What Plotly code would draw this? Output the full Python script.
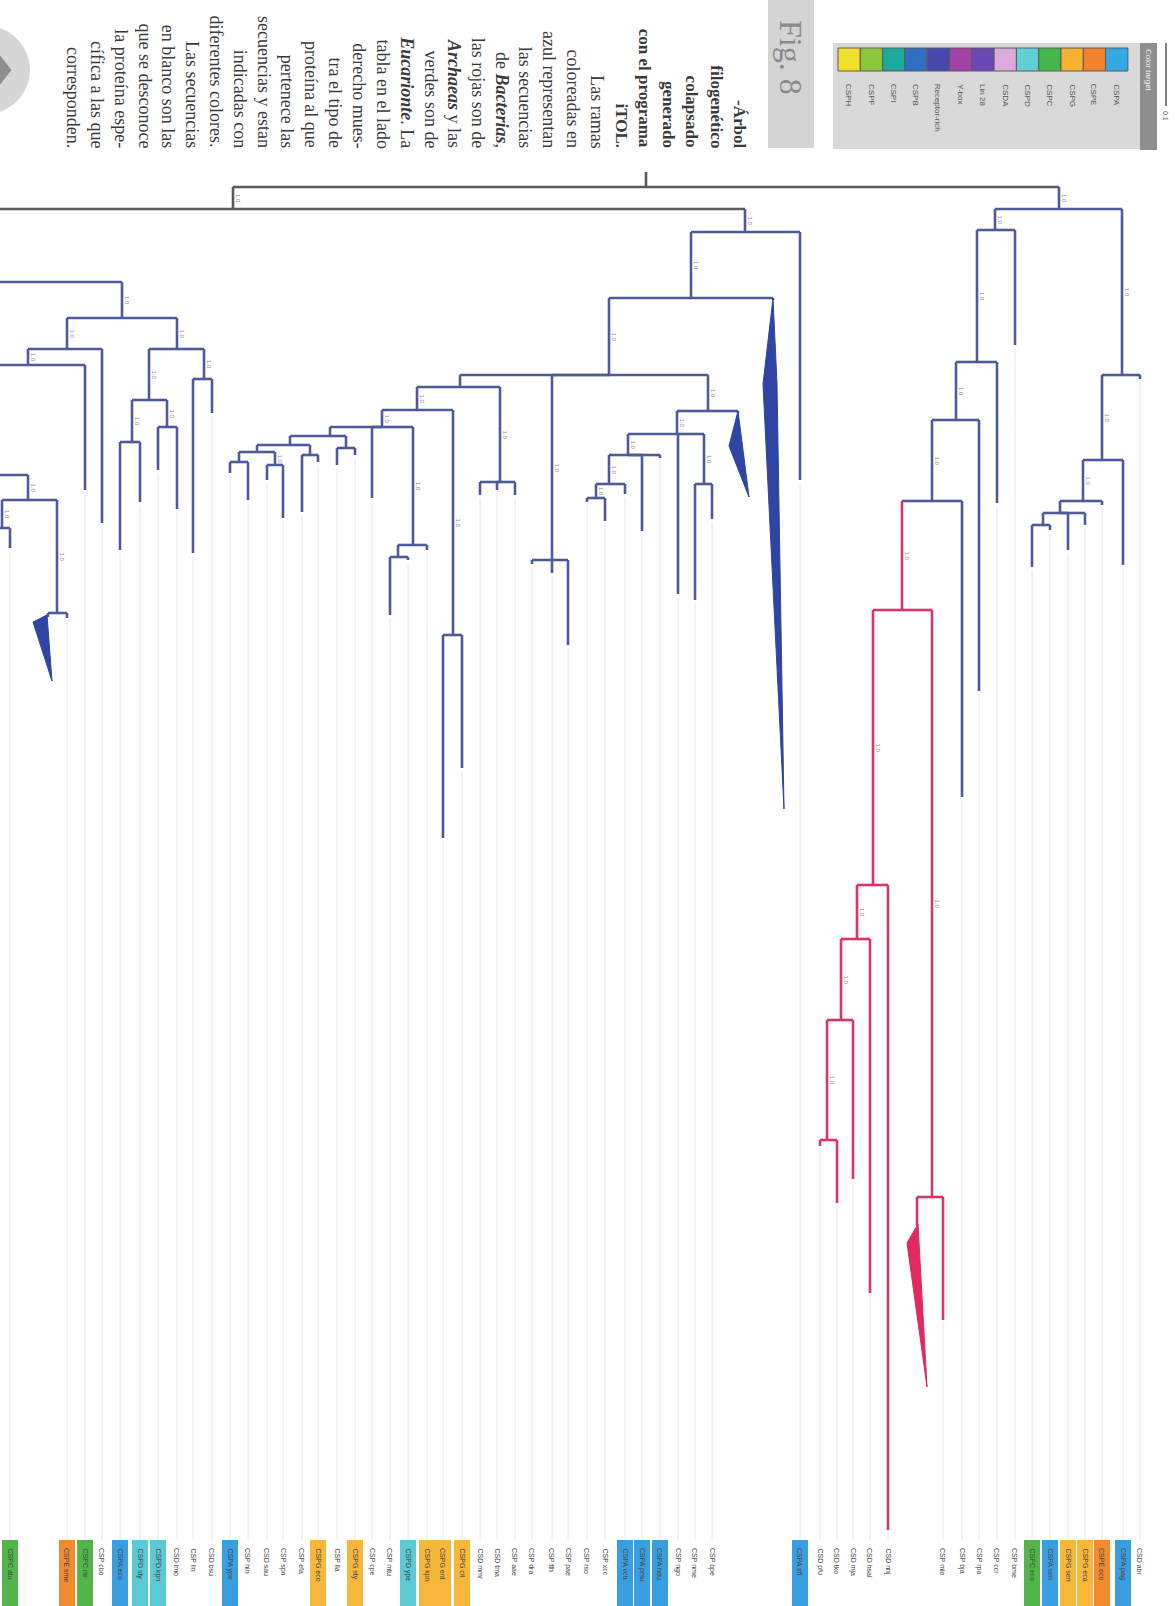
import plotly.graph_objects as go

W, H = 1175, 1606

# ---------------- tree data: (node, parent, x position, depth, clade) ----------------
backbone = [
    ("STEM", None, 646, 172, "k"),
    ("ROOT", "STEM", 646, 187, "k"),
    ("A", "ROOT", 233, 209, "k"),
    ("R0", "ROOT", 1059, 209, "b"),
    ("B", "A", 745, 232, "b"),
    ("L0", "A", -279, 282, "b"),
]

left_clade = [
    ("L1", "L0", 122, 318, "b"),
    ("L2", "L1", 177, 349, "b"),
    ("L3", "L2", 204, 379, "b"),
    ("t193", "L3", 193, 553, "b"),
    ("t212", "L3", 212, 413, "b"),
    ("L4", "L2", 149, 400, "b"),
    ("L5", "L4", 167, 427, "b"),
    ("t158", "L5", 158, 470, "b"),
    ("t177", "L5", 177, 509, "b"),
    ("L6", "L4", 132, 442, "b"),
    ("t120", "L6", 120, 550, "b"),
    ("t140", "L6", 140, 502, "b"),
    ("L7", "L1", 67, 349, "b"),
    ("t102", "L7", 102, 523, "b"),
    ("L8", "L7", 28, 365, "b"),
    ("t85", "L8", 85, 490, "b"),
    ("L9", "L8", -32, 475, "b"),
    ("L10", "L9", 28, 500, "b"),
    ("L12", "L10", 2, 528, "b"),
    ("t-8", "L12", -8, 560, "b"),
    ("t10", "L12", 10, 548, "b"),
    ("L11", "L10", 57, 613, "b"),
    ("TL", "L11", 48, 617, "b"),
    ("t67", "L11", 67, 618, "b"),
]

middle_clade = [
    ("t800", "B", 800, 480, "b"),
    ("M2", "B", 691, 298, "b"),
    ("T1", "M2", 773, 300, "b"),
    ("M3", "M2", 609, 375, "b"),
    ("P1", "M3", 460, 387, "b"),
    ("P3", "P1", 417, 410, "b"),
    ("P5", "P3", 382, 427, "b"),
    ("X", "P5", 330, 436, "b"),
    ("XE", "X", 346, 448, "b"),
    ("t337", "XE", 337, 465, "b"),
    ("t355", "XE", 355, 455, "b"),
    ("XA", "X", 290, 445, "b"),
    ("XF", "XA", 310, 455, "b"),
    ("t302", "XF", 302, 512, "b"),
    ("t318", "XF", 318, 462, "b"),
    ("XB", "XA", 257, 452, "b"),
    ("XC", "XB", 239, 462, "b"),
    ("t230", "XC", 230, 473, "b"),
    ("t248", "XC", 248, 500, "b"),
    ("XD", "XB", 275, 465, "b"),
    ("t267", "XD", 267, 480, "b"),
    ("t283", "XD", 283, 518, "b"),
    ("t372", "P5", 372, 498, "b"),
    ("P7", "P5", 413, 545, "b"),
    ("P8", "P7", 398, 557, "b"),
    ("t390", "P8", 390, 615, "b"),
    ("t408", "P8", 408, 560, "b"),
    ("t427", "P7", 427, 550, "b"),
    ("P6", "P3", 453, 635, "b"),
    ("t443", "P6", 443, 838, "b"),
    ("t462", "P6", 462, 768, "b"),
    ("P4", "P1", 500, 482, "b"),
    ("t480", "P4", 480, 495, "b"),
    ("t497", "P4", 497, 490, "b"),
    ("t515", "P4", 515, 495, "b"),
    ("P2", "M3", 552, 560, "b"),
    ("t532", "P2", 532, 564, "b"),
    ("t552", "P2", 552, 573, "b"),
    ("t568", "P2", 568, 645, "b"),
    ("M4", "M3", 708, 411, "b"),
    ("T2", "M4", 738, 413, "b"),
    ("M5", "M4", 677, 434, "b"),
    ("t678", "M5", 678, 594, "b"),
    ("M6", "M5", 704, 484, "b"),
    ("t695", "M6", 695, 600, "b"),
    ("t712", "M6", 712, 519, "b"),
    ("M7", "M5", 628, 455, "b"),
    ("t642", "M7", 642, 531, "b"),
    ("t660", "M7", 660, 458, "b"),
    ("M8", "M7", 609, 484, "b"),
    ("t625", "M8", 625, 494, "b"),
    ("M9", "M8", 596, 498, "b"),
    ("t587", "M9", 587, 502, "b"),
    ("t605", "M9", 605, 521, "b"),
]

right_clade = [
    ("R2", "R0", 995, 230, "b"),
    ("t1015", "R2", 1015, 345, "b"),
    ("R3", "R2", 977, 362, "b"),
    ("t997", "R3", 997, 503, "b"),
    ("R4", "R3", 956, 420, "b"),
    ("t979", "R4", 979, 691, "b"),
    ("R5", "R4", 932, 501, "b"),
    ("t962", "R5", 962, 797, "b"),
    ("RR", "R0", 1122, 375, "b"),
    ("t1140", "RR", 1140, 379, "b"),
    ("R6", "RR", 1102, 460, "b"),
    ("t1123", "R6", 1123, 565, "b"),
    ("R7", "R6", 1083, 501, "b"),
    ("t1102", "R7", 1102, 505, "b"),
    ("R8", "R7", 1060, 513, "b"),
    ("t1068", "R8", 1068, 550, "b"),
    ("t1085", "R8", 1085, 525, "b"),
    ("R9", "R8", 1043, 525, "b"),
    ("t1032", "R9", 1032, 567, "b"),
    ("t1050", "R9", 1050, 530, "b"),
]

red_clade = [
    ("RED1", "R5", 902, 610, "r"),
    ("RED2", "RED1", 932, 1197, "r"),
    ("t943", "RED2", 943, 1320, "r"),
    ("T3", "RED2", 917, 1226, "r"),
    ("RED3", "RED1", 873, 885, "r"),
    ("t888", "RED3", 888, 1530, "r"),
    ("RED4", "RED3", 857, 939, "r"),
    ("t870", "RED4", 870, 1293, "r"),
    ("RED5", "RED4", 841, 1020, "r"),
    ("t853", "RED5", 853, 1179, "r"),
    ("RED6", "RED5", 827, 1140, "r"),
    ("t837", "RED6", 837, 1203, "r"),
    ("t820", "RED6", 820, 1146, "r"),
]

# collapsed clades (wedges)
wedge_TL_x = [47, 33, 52, 47]
wedge_TL_y = [615, 622, 681, 615]
wedge_T1_x = [773, 763, 784, 777, 773]
wedge_T1_y = [298, 384, 809, 384, 298]
wedge_T2_x = [738, 729, 749, 738]
wedge_T2_y = [411, 446, 497, 411]
wedge_T3_x = [918, 907, 927, 918]
wedge_T3_y = [1224, 1243, 1387, 1224]

# ---------------- leaf labels ----------------
label_x = [-8, 10, 67, 85, 102, 120, 140, 158, 177, 193, 212, 230, 248, 267, 283, 302,
           318, 337, 355, 372, 390, 408, 427, 443, 462, 480, 497, 515, 532, 552, 568,
           587, 605, 625, 642, 660, 678, 695, 712, 800, 820, 837, 853, 870, 888, 943,
           962, 979, 997, 1015, 1032, 1050, 1068, 1085, 1102, 1123, 1140]
label_type = ["w", "g", "o", "g", "w", "b", "c", "c", "w", "w", "w", "b", "w", "w", "w", "w",
              "y", "w", "y", "w", "w", "c", "y", "y", "y", "w", "w", "w", "w", "w", "w",
              "w", "w", "b", "b", "b", "w", "w", "w", "b", "w", "w", "w", "w", "w", "w",
              "w", "w", "w", "w", "g", "b", "y", "y", "o", "b", "w"]
label_text = ["CSP bce", "CSPC atu", "CSPE sme", "CSPC rle", "CSP cbo", "CSPA eco", "CSPD sty",
              "CSPD kpn", "CSD lmo", "CSP lin", "CSD bsu", "CSPA ype", "CSP hin", "CSD sau",
              "CSP spn", "CSP efa", "CSPG eco", "CSP lla", "CSPG sty", "CSP cpe", "CSP mtu",
              "CSPD ype", "CSPG kpn", "CSPG ent", "CSPG cit", "CSD mmr", "CSD tma", "CSP aae",
              "CSP dra", "CSP tth", "CSP pae", "CSP rso", "CSP xcc", "CSPA vch", "CSPA pmu",
              "CSPA hdu", "CSP ngo", "CSP nme", "CSP bpe", "CSPA sfl", "CSD pfu", "CSD tko",
              "CSD mja", "CSD hsal", "CSD nnj", "CSP mlo", "CSP bja", "CSP rpa", "CSP ccr",
              "CSP bme", "CSPC eco", "CSPA sen", "CSPG sen", "CSPG eca", "CSPE eco",
              "CSPA pag", "CSD abr"]

box_colors = {"b": "#3a9fe0", "c": "#5ccad4", "g": "#53b64a", "o": "#f28a30", "y": "#f7b73a"}

# ---------------- legend (right-top table) ----------------
legend_names = ["CSPH", "CSPF", "CSPI", "CSPB", "Receptor-rich", "Y-box", "Lin 28", "CSDA",
                "CSPD", "CSPC", "CSPG", "CSPE", "CSPA"]
legend_colors = ["#efe02a", "#8cc63f", "#1fa89e", "#2f6fc4", "#4747ad", "#a241a6", "#6a48b5",
                 "#dcaadc", "#62d0d2", "#45b649", "#f8b232", "#f2822e", "#35a9e6"]

# ---------------- caption ----------------
caption_lines = ["-Árbol", "filogenético", "colapsado", "generado", "con el programa", "iTOL.",
                 "Las ramas", "coloreadas en", "azul representan", "las secuencias",
                 "de <b><i>Bacterias</i></b>,", "las rojas son de", "<b><i>Archaeas</i></b> y las",
                 "verdes son de", "<b><i>Eucarionte</i></b>. La", "tabla en el lado",
                 "derecho mues-", "tra el tipo de", "proteína al que", "pertenece las",
                 "secuencias y estan", "indicadas con", "diferentes colores.", "Las secuencias",
                 "en blanco son las", "que se desconoce", "la proteína espe-", "cífica a las que",
                 "corresponden."]
caption_bold = [True] * 6 + [False] * 23

# =====================================================================
COL = {"k": "#5a5a5a", "b": "#4e5a9a", "r": "#d9356d"}
nodes = {}
for row in backbone + left_clade + middle_clade + right_clade + red_clade:
    name, parent, x, y, g = row
    nodes[name] = dict(parent=parent, x=x, y=y, g=g)

seg = {k: ([], []) for k in COL}
support = []
for name, n in nodes.items():
    p = n["parent"]
    if p is None:
        continue
    P = nodes[p]
    hx, hy = seg[P["g"]]
    hx += [P["x"], n["x"], None]
    hy += [P["y"], P["y"], None]
    vx, vy = seg[n["g"]]
    vx += [n["x"], n["x"], None]
    vy += [P["y"], n["y"], None]
    if not name.startswith(("t", "T")) and name != "ROOT" and n["y"] - P["y"] > 12:
        support.append((n["x"] + 5, (P["y"] + n["y"]) / 2))

fig = go.Figure()

# guide lines from tips to labels
tips = {n["x"]: n["y"] for k, n in nodes.items() if k.startswith("t")}
gx, gy = [], []
for lx in label_x:
    ty = tips.get(lx, 400)
    gx += [lx, lx, None]
    gy += [ty + 3, 1540, None]
fig.add_trace(go.Scatter(x=gx, y=gy, mode="lines", line=dict(color="#e6e6ec", width=1),
                         hoverinfo="skip", showlegend=False))

for g, (xs, ys) in seg.items():
    fig.add_trace(go.Scatter(x=xs, y=ys, mode="lines", line=dict(color=COL[g], width=2.6),
                             hoverinfo="skip", showlegend=False))

for wx, wy, c in [(wedge_TL_x, wedge_TL_y, "#2f44a3"), (wedge_T1_x, wedge_T1_y, "#2f44a3"),
                  (wedge_T2_x, wedge_T2_y, "#2f44a3"), (wedge_T3_x, wedge_T3_y, "#e02a60")]:
    fig.add_trace(go.Scatter(x=wx, y=wy, mode="lines", fill="toself", fillcolor=c,
                             line=dict(color=c, width=1), hoverinfo="skip", showlegend=False))

shapes = []
annotations = []

# support values
for sx, sy in support:
    annotations.append(dict(x=sx, y=sy, text="1.0", showarrow=False, textangle=90,
                            font=dict(size=6, color="#8d8d8d", family="Liberation Sans"),
                            xanchor="center", yanchor="middle"))

# leaf label boxes + texts
for lx, lt, txt in zip(label_x, label_type, label_text):
    if lt != "w":
        shapes.append(dict(type="rect", x0=lx - 8, x1=lx + 8, y0=1540, y1=1612,
                           fillcolor=box_colors[lt], line=dict(width=0), layer="below"))
    annotations.append(dict(x=lx, y=1546, text=txt, showarrow=False, textangle=90,
                            font=dict(size=7, color="#444444", family="Liberation Sans"),
                            xanchor="center", yanchor="top"))

# legend panel
shapes.append(dict(type="rect", x0=833, x1=1140, y0=43, y1=149, fillcolor="#d9d9d9",
                   line=dict(width=0), layer="below"))
shapes.append(dict(type="rect", x0=1140, x1=1157, y0=43, y1=150, fillcolor="#8e8e8e",
                   line=dict(width=0), layer="below"))
annotations.append(dict(x=1148.5, y=47, text="Color target", showarrow=False, textangle=90,
                        font=dict(size=8, color="#f2f2f2", family="Liberation Sans"),
                        xanchor="center", yanchor="top"))
sq_w = 22.3
for i, (nm, c) in enumerate(zip(legend_names, legend_colors)):
    x0 = 838 + i * sq_w
    shapes.append(dict(type="rect", x0=x0, x1=x0 + sq_w, y0=48, y1=71, fillcolor=c,
                       line=dict(color="#5a5a5a", width=1)))
    annotations.append(dict(x=x0 + sq_w / 2, y=82, text=nm, showarrow=False, textangle=90,
                            font=dict(size=8, color="#555555", family="Liberation Sans"),
                            xanchor="center", yanchor="top"))
# scale bar
shapes.append(dict(type="line", x0=1166, x1=1166, y0=43, y1=106, line=dict(color="#555", width=1.5)))
annotations.append(dict(x=1166, y=109, text="0.1", showarrow=False, textangle=90,
                        font=dict(size=7, color="#666", family="Liberation Sans"),
                        xanchor="center", yanchor="top"))

# Fig. 8 box
shapes.append(dict(type="rect", x0=768, x1=814, y0=-5, y1=148, fillcolor="#d4d4d4",
                   line=dict(width=0), layer="below"))
annotations.append(dict(x=791, y=57, text="Fig. 8", showarrow=False, textangle=90,
                        font=dict(size=32, color="#8a8a8a", family="Liberation Serif"),
                        xanchor="center", yanchor="middle"))

# caption columns
for i, (line, b) in enumerate(zip(caption_lines, caption_bold)):
    lx = 740 - i * 23.8
    txt = "<b>%s</b>" % line if b else line
    annotations.append(dict(x=lx, y=150, text=txt, showarrow=False, textangle=90,
                            font=dict(size=17 if b else 18, color="#3a3a3a",
                                      family="Liberation Serif"),
                            xanchor="center", yanchor="bottom"))

# page-turn circle icon
shapes.append(dict(type="circle", x0=-58, x1=30, y0=26, y1=114, fillcolor="#d6d6d6",
                   line=dict(width=0), layer="below"))
fig.add_trace(go.Scatter(x=[0, 11, 0, 0], y=[56, 70, 84, 56], mode="lines", fill="toself",
                         fillcolor="#8e8e8e", line=dict(color="#8e8e8e", width=1),
                         hoverinfo="skip", showlegend=False))

fig.update_layout(
    width=W, height=H, margin=dict(l=0, r=0, t=0, b=0),
    paper_bgcolor="white", plot_bgcolor="white",
    xaxis=dict(range=[0, W], visible=False, fixedrange=True),
    yaxis=dict(range=[H, 0], visible=False, fixedrange=True),
    shapes=shapes, annotations=annotations, showlegend=False,
)

fig.write_html("out.html", config={"displayModeBar": False},
               post_script="document.body.style.margin='0';")
